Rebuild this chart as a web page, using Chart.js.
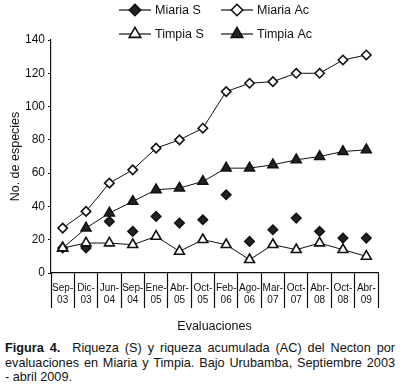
<!DOCTYPE html>
<html lang="es">
<head>
<meta charset="UTF-8">
<title>Figura 4</title>
<script src="https://cdn.jsdelivr.net/npm/chart.js"></script>
<style>
  body { margin: 0; background: #fff; font-family: "Liberation Sans", Arial, sans-serif; }
  #wrap { position: relative; width: 400px; height: 389px; overflow: hidden; }
  #chart { position: absolute; left: 0; top: 0; }
  .cap { position: absolute; left: 5px; width: 390px; font-size: 12.7px; line-height: 14.6px; color: #111; }
  .cap div { text-align: justify; text-align-last: justify; white-space: nowrap; }
  .cap div.last { text-align-last: left; }
</style>
</head>
<body>
<div id="wrap">
  <canvas id="chart" width="400" height="340"></canvas>
  <div class="cap" style="top:341px">
    <div><b>Figura 4.</b>&nbsp; Riqueza (S) y riqueza acumulada (AC) del Necton por</div>
    <div>evaluaciones en Miaria y Timpia. Bajo Urubamba, Septiembre 2003</div>
    <div class="last">- abril 2009.</div>
  </div>
</div>
<script>
// datos
const categories = [['Sep-','03'],['Dic-','03'],['Jun-','04'],['Sep-','04'],['Ene-','05'],['Abr-','05'],['Oct-','05'],
                    ['Feb-','06'],['Ago-','06'],['Mar-','07'],['Oct-','07'],['Abr-','08'],['Oct-','08'],['Abr-','09']];
const miariaS  = [15, 15, 31, 25, 34, 30, 32, 47, 19, 26, 33, 25, 21, 21];
const miariaAc = [27, 37, 54, 62, 75, 80, 87, 109, 114, 115, 120, 120, 128, 131];
const timpiaS  = [15, 18, 18, 17, 22, 13, 20, 17, 8, 17, 14, 18, 14, 10];
const timpiaAc = [15, 27, 36, 43, 50, 51, 55, 63, 63, 65, 68, 70, 73, 74];
const yTicks = [0, 20, 40, 60, 80, 100, 120, 140];

const FONT = '"Liberation Sans", Arial, sans-serif';
const INK = '#111';

// leyenda con linea + marcador
const legendPlugin = {
  id: 'lineLegend',
  afterDraw(chart) {
    const ctx = chart.ctx;
    const spots = [[135, 10], [237, 10], [135, 34], [237, 34]];
    chart.data.datasets.forEach((ds, i) => {
      const [x, y] = spots[i];
      ctx.save();
      ctx.strokeStyle = INK;
      ctx.lineWidth = 1.2;
      ctx.beginPath();
      ctx.moveTo(x - 16, y);
      ctx.lineTo(x + 16, y);
      ctx.stroke();
      ctx.fillStyle = ds.pointBackgroundColor;
      ctx.strokeStyle = ds.pointBorderColor;
      ctx.lineWidth = ds.pointBorderWidth;
      Chart.helpers.drawPoint(ctx, { pointStyle: ds.pointStyle, radius: ds.pointRadius + 1, borderWidth: ds.pointBorderWidth, rotation: 0 }, x, y);
      ctx.fillStyle = INK;
      ctx.font = '12.5px ' + FONT;
      ctx.textBaseline = 'middle';
      ctx.fillText(ds.label, x + 20, y + 1);
      ctx.restore();
    });
  }
};

function serie(label, data, style, fill, radius, line) {
  return {
    label: label,
    data: data,
    showLine: line,
    borderColor: INK,
    borderWidth: 1,
    pointStyle: style,
    pointRadius: radius,
    pointHoverRadius: radius,
    pointBackgroundColor: fill,
    pointBorderColor: INK,
    pointBorderWidth: 1.6,
    tension: 0,
    clip: false
  };
}

const ds = [
  serie('Miaria S', miariaS, 'rectRot', '#222', 4.7, false),
  serie('Miaria Ac', miariaAc, 'rectRot', '#fff', 4.7, true),
  serie('Timpia S', timpiaS, 'triangle', '#fff', 5.7, true),
  serie('Timpia Ac', timpiaAc, 'triangle', '#222', 5.7, true)
];
ds[0].order = 4;

new Chart(document.getElementById('chart'), {
  type: 'line',
  data: { labels: categories, datasets: ds },
  options: {
    responsive: false,
    animation: false,
    layout: { padding: { top: 40, right: 22, bottom: 0, left: 0 } },
    plugins: { legend: { display: false }, tooltip: { enabled: false } },
    scales: {
      x: {
        offset: true,
        grid: { offset: true, drawOnChartArea: false, color: INK, tickLength: 35, tickWidth: 1.2 },
        border: { color: INK, width: 1.2 },
        ticks: { color: INK, font: { family: FONT, size: 10 }, padding: -26, maxRotation: 0, autoSkip: false },
        title: { display: true, text: 'Evaluaciones', color: INK, font: { family: FONT, size: 12.5 }, padding: { top: 0, bottom: 6 } },
        afterFit: s => { s.height = 67; }
      },
      y: {
        min: yTicks[0],
        max: yTicks[yTicks.length - 1],
        afterBuildTicks: s => { s.ticks = yTicks.map(v => ({ value: v })); },
        grid: { drawOnChartArea: false, color: INK, tickLength: 3, tickWidth: 1.2 },
        border: { color: INK, width: 1.2 },
        ticks: { color: INK, font: { family: FONT, size: 12 }, padding: 3 },
        title: { display: true, text: 'No. de especies', color: INK, font: { family: FONT, size: 12.5 }, padding: { top: 8, bottom: 0 } },
        afterFit: s => { s.width = 51; }
      }
    }
  },
  plugins: [legendPlugin]
});
</script>
</body>
</html>
